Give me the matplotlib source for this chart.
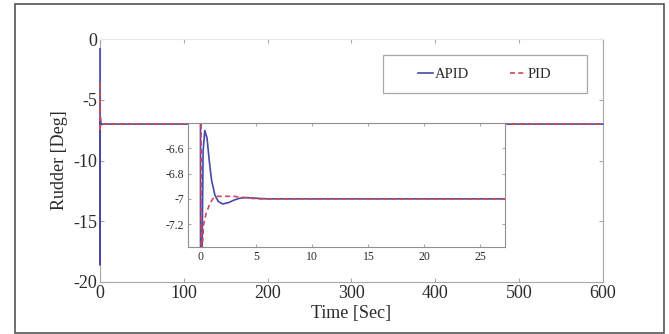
import matplotlib
matplotlib.use('Agg')
import matplotlib.pyplot as plt
from matplotlib.patches import Rectangle
from matplotlib.lines import Line2D

# APID response (time in s, rudder in deg)
t_apid = [0, 0.05, 0.1, 0.15, 0.25, 0.4, 0.6, 0.8, 1.0, 1.3, 1.6, 2.0, 2.5,
          3.0, 3.5, 4.0, 5.0, 6.0, 10, 600]
r_apid = [-0.8, -18.6, -12.0, -7.5, -6.62, -6.46, -6.52, -6.7, -6.85, -6.97,
          -7.02, -7.04, -7.03, -7.01, -6.995, -6.99, -6.995, -7.0, -7.0, -7.0]

# PID response
t_pid = [0, 0.1, 0.2, 0.3, 0.5, 0.8, 1.1, 1.5, 2.0, 3.0, 3.5, 4.0, 4.5, 5.0,
         6, 600]
r_pid = [-3.6, -7.6, -7.35, -7.2, -7.12, -7.05, -7.0, -6.98, -6.98, -6.98,
         -6.985, -6.99, -6.995, -7.0, -7.0, -7.0]

main_xticks = [0, 100, 200, 300, 400, 500, 600]
main_yticks = [0, -5, -10, -15, -20]
inset_xticks = [0, 5, 10, 15, 20, 25]
inset_yticks = [-6.6, -6.8, -7.0, -7.2]
inset_ylabels = ['-6.6', '-6.8', '-7', '-7.2']

blue = '#4848a8'
red = '#d04858'
gray = '#a8a8a8'
txt = '#2a2a2a'

plt.rcParams['font.family'] = ['Liberation Serif', 'DejaVu Serif']
plt.rcParams['axes.unicode_minus'] = False

fig = plt.figure(figsize=(6.69, 3.34), dpi=100)
fig.patches.append(Rectangle((15 / 669, 1 / 334), 649 / 669, 329 / 334,
                             transform=fig.transFigure, fill=False,
                             edgecolor='#555555', linewidth=1.2))

ax = fig.add_axes([0.1495, 0.1557, 0.7515, 0.7273])
ax.plot(t_apid, r_apid, color=blue, linewidth=1.2, zorder=3, clip_on=False)
ax.plot(t_pid, r_pid, color=red, linewidth=1.2, linestyle=(0, (3, 2)),
        zorder=3, clip_on=False)
ax.set_xlim(0, 600)
ax.set_ylim(-20, 0)
ax.set_xticks(main_xticks)
ax.set_yticks(main_yticks)
ax.tick_params(direction='in', top=True, right=True, length=3,
               color=gray, labelsize=13, labelcolor=txt, pad=2)
for s in ax.spines.values():
    s.set_color(gray)
ax.spines['top'].set_color('#e8e8e8')
ax.set_xlabel('Time [Sec]', fontsize=13, color=txt, labelpad=2)
ax.set_ylabel('Rudder [Deg]', fontsize=13, color=txt, labelpad=4)

# legend box drawn separately to get MATLAB-like padding
ax.add_patch(Rectangle((0.563, 0.778), 0.406, 0.156, transform=ax.transAxes,
                       fill=False, edgecolor=gray, linewidth=0.9, zorder=5))
handles = [Line2D([], [], color=blue, linewidth=1.2),
           Line2D([], [], color=red, linewidth=1.2, linestyle=(0, (3, 2)))]
ax.legend(handles, ['APID', 'PID'], loc='center', bbox_to_anchor=(0.765, 0.856),
          ncol=2, frameon=False, fontsize=10.5, handlelength=1.0,
          handletextpad=0.15, columnspacing=2.8, labelcolor=txt)

ins = fig.add_axes([0.281, 0.2605, 0.474, 0.3715])
ins.set_zorder(4)
ins.plot(t_apid, r_apid, color=blue, linewidth=1.2)
ins.plot(t_pid, r_pid, color=red, linewidth=1.2, linestyle=(0, (3, 2)))
ins.set_xlim(-1.1, 27.2)
ins.set_ylim(-7.38, -6.4)
ins.set_xticks(inset_xticks)
ins.set_yticks(inset_yticks)
ins.set_yticklabels(inset_ylabels)
ins.tick_params(direction='in', top=True, right=True, length=2.5,
                color=gray, labelsize=8.5, labelcolor=txt, pad=3)
for s in ins.spines.values():
    s.set_color('#909090')

fig.savefig('out.png', dpi=100)
